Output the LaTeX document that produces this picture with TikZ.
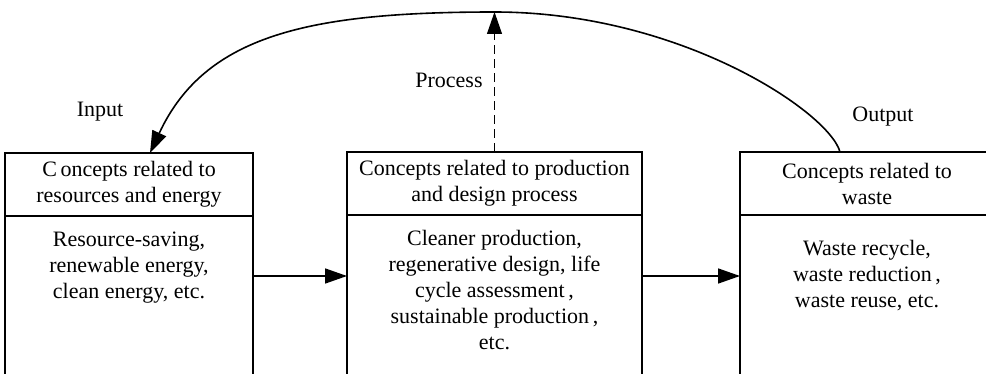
\documentclass[tikz,border=0pt]{standalone}
\usepackage{fontspec}
\setmainfont{Liberation Serif}
\usetikzlibrary{positioning,arrows.meta}

\tikzset{
  headbox/.style={draw, line width=1.6pt, outer sep=0pt, inner sep=0pt, minimum height=63pt, align=center},
  bodybox/.style={draw, line width=1.6pt, outer sep=0pt, inner sep=0pt, minimum height=200pt},
  bodytext/.style={align=center},
  flow/.style={line width=1.6pt, -{Triangle[length=22pt,width=15pt]}},
}

\begin{document}
\begin{tikzpicture}[x=1pt,y=1pt,every node/.style={font=\fontsize{22}{26}\selectfont}]
	\clip (0,0) rectangle (986,373);
	\node[headbox, minimum width=248pt] (res) at (129,188.5) {C\,oncepts related to\\resources and energy};
	\node[headbox, minimum width=295pt] (prod) at (494.5,189.5) {Concepts related to production\\and design process};
	\node[headbox, minimum width=254pt] (waste) at (867,189.5) {Concepts related to\\waste};
	\node[bodybox, minimum width=248pt, below=0pt of res] (resB) {};
	\node[bodybox, minimum width=295pt, below=0pt of prod] (prodB) {};
	\node[bodybox, minimum width=254pt, below=0pt of waste] (wasteB) {};
	\node[bodytext] (resT) at (129,105) {Resource-saving,\\renewable energy,\\clean energy, etc.};
	\node[bodytext] (prodT) at (494.5,83) {Cleaner production,\\regenerative design, life\\cycle assessment\,,\\sustainable production\,,\\etc.};
	\node[bodytext] (wasteT) at (867,97) {Waste recycle,\\waste reduction\,,\\waste reuse, etc.};
	\draw[flow] (resB.east |- wasteT) -- (prodB.west |- wasteT);
	\draw[flow] (prodB.east |- wasteT) -- (wasteB.west |- wasteT);
	\coordinate (apex) at (494.5,361);
	\draw[flow] ([xshift=-27pt]waste.north) .. controls +(105:41) and +(0:186) .. (apex)
		.. controls +(180:186) and +(65:130) .. ([xshift=21pt]res.north);
	\draw[line width=1.1pt, dash pattern=on 9pt off 5pt, -{Triangle[length=22pt,width=15pt]}] (prod.north) -- (apex);
	\node (inlab) at (100,261) {Input};
	\node (proclab) at (449,293) {Process};
	\node (outlab) at (883,256) {Output};
\end{tikzpicture}
\end{document}
